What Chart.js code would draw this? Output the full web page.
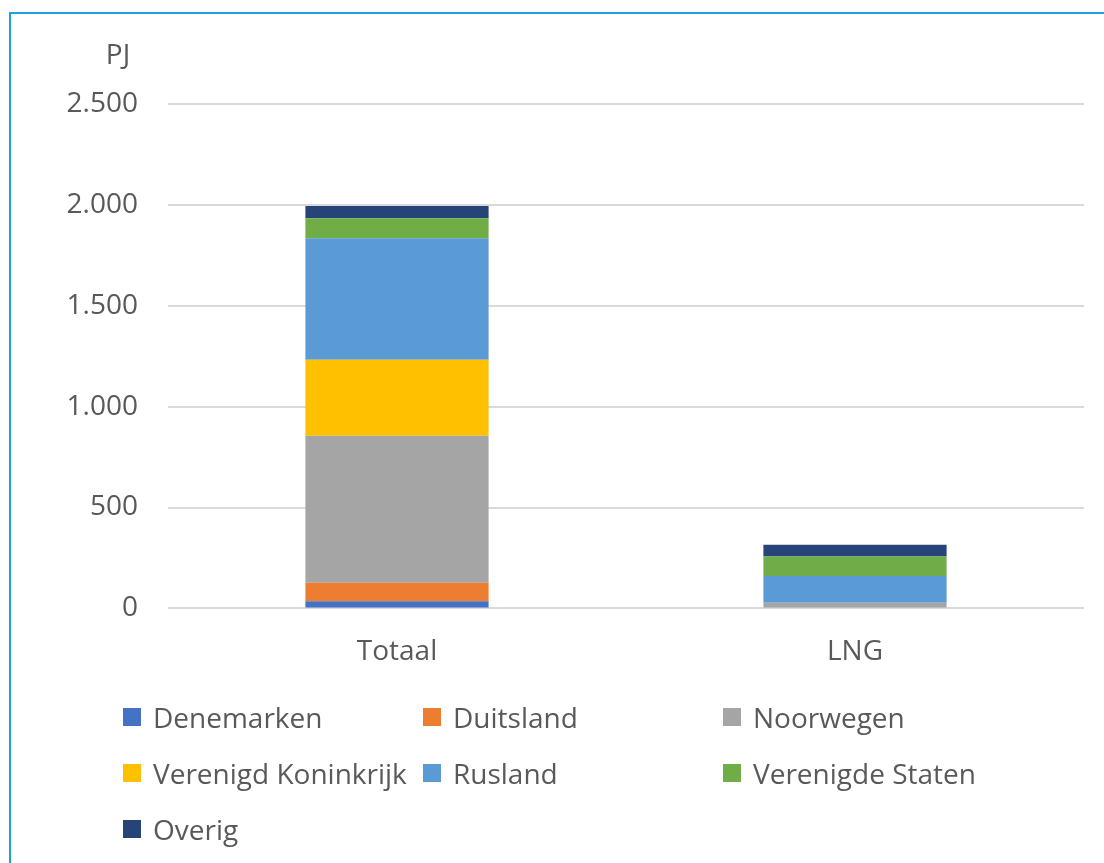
<!DOCTYPE html>
<html>
<head>
<meta charset="utf-8">
<script src="https://cdn.jsdelivr.net/npm/chart.js@4.4.1/dist/chart.umd.min.js"></script>
<style>
  html, body { margin: 0; padding: 0; background: #fff; }
  body { width: 1104px; height: 863px; position: relative; overflow: hidden; font-family: "Open Sans", sans-serif; }
  #frame { position: absolute; left: 9px; top: 12px; width: 1110px; height: 900px; border-left: 2px solid #1aa3db; border-top: 2px solid #1aa3db; }
  #wrap { position: absolute; left: 0; top: 0; width: 1104px; height: 863px; }
  #legend { position: absolute; left: 0; top: 0; width: 1104px; height: 863px; pointer-events: none; }
  .item { position: absolute; height: 30px; display: flex; align-items: center; color: #595959; font-size: 28px; white-space: nowrap; }
  .box { width: 18px; height: 18px; margin-right: 12px; }
</style>
</head>
<body>
<div id="frame"></div>
<div id="wrap"><canvas id="chartGas"></canvas></div>
<div id="legend"></div>
<script>
// categories and series (PJ)
const categories = ['Totaal', 'LNG'];
const countries = ['Denemarken', 'Duitsland', 'Noorwegen', 'Verenigd Koninkrijk', 'Rusland', 'Verenigde Staten', 'Overig'];
const denemarken = [35, 0];
const duitsland = [92, 0];
const noorwegen = [729, 28];
const verenigdKoninkrijk = [376, 0];
const rusland = [603, 132];
const verenigdeStaten = [99, 97];
const overig = [61, 59];
const yTicks = [0, 500, 1000, 1500, 2000, 2500];

const seriesValues = [denemarken, duitsland, noorwegen, verenigdKoninkrijk, rusland, verenigdeStaten, overig];
const colors = ['#4472c4', '#ed7d31', '#a5a5a5', '#ffc000', '#5b9bd5', '#70ad47', '#264478'];

const fontFamily = '"Open Sans", sans-serif';
const textColor = '#595959';

// dutch thousands separator
const fmt = v => String(v).replace(/\B(?=(\d{3})+(?!\d))/g, '.');

// draws the "PJ" unit above the y axis
const unitLabel = {
    id: 'unitLabel',
    afterDraw(chart) {
        const c = chart.ctx;
        const area = chart.chartArea;
        c.save();
        c.font = '28px ' + fontFamily;
        c.fillStyle = textColor;
        c.textAlign = 'center';
        c.textBaseline = 'middle';
        c.fillText('PJ', area.left - 50, area.top - 48);
        c.restore();
    }
};

const chart = new Chart(document.getElementById('chartGas'), {
    type: 'bar',
    data: {
        labels: categories,
        datasets: countries.map((name, i) => ({
            label: name,
            data: seriesValues[i],
            backgroundColor: colors[i],
            borderWidth: 0,
            barPercentage: 0.4,
            categoryPercentage: 1.0
        }))
    },
    options: {
        responsive: true,
        maintainAspectRatio: false,
        animation: false,
        layout: {
            padding: { top: 104, right: 20, bottom: 167, left: 0 }
        },
        plugins: {
            legend: { display: false },
            tooltip: { enabled: false }
        },
        scales: {
            x: {
                stacked: true,
                grid: { display: false, drawTicks: false },
                border: { display: false },
                ticks: {
                    color: textColor,
                    font: { family: fontFamily, size: 28 },
                    padding: 27
                }
            },
            y: {
                stacked: true,
                min: 0,
                max: 2500,
                afterFit(scale) { scale.width = 168; },
                afterBuildTicks(scale) { scale.ticks = yTicks.map(v => ({ value: v })); },
                grid: { color: '#d9d9d9', lineWidth: 2, drawTicks: false },
                border: { display: false },
                ticks: {
                    color: textColor,
                    font: { family: fontFamily, size: 28 },
                    padding: 30,
                    callback: v => fmt(v)
                }
            }
        }
    },
    plugins: [unitLabel]
});

// html legend laid out in three columns like the original
const legendEl = document.getElementById('legend');
const items = Chart.defaults.plugins.legend.labels.generateLabels(chart);
items.forEach((it, i) => {
    const col = i % 3;
    const row = Math.floor(i / 3);
    const div = document.createElement('div');
    div.className = 'item';
    div.style.left = (123 + col * 300) + 'px';
    div.style.top = (702 + row * 56) + 'px';
    const box = document.createElement('span');
    box.className = 'box';
    box.style.background = it.fillStyle;
    div.appendChild(box);
    div.appendChild(document.createTextNode(it.text));
    legendEl.appendChild(div);
});
</script>
</body>
</html>
